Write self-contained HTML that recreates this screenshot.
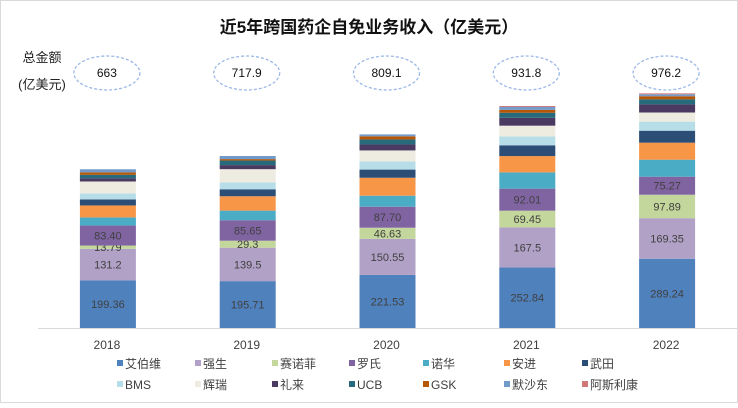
<!DOCTYPE html>
<html><head><meta charset="utf-8"><style>
body{margin:0;background:#fff;}
svg text{font-family:"Liberation Sans","Noto Sans CJK SC",sans-serif;}
</style></head><body>
<svg id="chart" width="738" height="403" viewBox="0 0 738 403" xmlns="http://www.w3.org/2000/svg">
<rect x="0.5" y="0.5" width="737" height="402" fill="#fff" stroke="#d9d9d9"/>
<text x="369" y="33" text-anchor="middle" font-size="17" font-weight="bold" fill="#111">近5年跨国药企自免业务收入（亿美元）</text>
<text x="42" y="62" text-anchor="middle" font-size="13" fill="#222">总金额</text>
<text x="42" y="89" text-anchor="middle" font-size="13" fill="#222">(亿美元)</text>
<g id="totals"></g>
<line x1="38" y1="328.5" x2="737" y2="328.5" stroke="#d9d9d9"/>
<g id="bars"></g>
<g id="xlabels"></g>
<g id="legend"></g>
</svg>
<script>
const categories=["2018","2019","2020","2021","2022"];
const totals=["663","717.9","809.1","931.8","976.2"];
const seriesNames=["艾伯维","强生","赛诺菲","罗氏","诺华","安进","武田","BMS","辉瑞","礼来","UCB","GSK","默沙东","阿斯利康"];
const colors=["#4F81BD","#B2A1C7","#C3D69B","#8064A2","#4BACC6","#F79646","#2C4D75","#B7DEE8","#EEECE1","#4A3A62","#276A7C","#B65708","#729ACA","#D07878"];
const s0=[199.36,195.71,221.53,252.84,289.24];
const s1=[131.2,139.5,150.55,167.5,169.35];
const s2=[13.79,29.3,46.63,69.45,97.89];
const s3=[83.40,85.65,87.70,92.01,75.27];
const s4=[34,40,46,68,71];
const s5=[50,60,75,68,71];
const s6=[25,29,34,45,50];
const s7=[25,29,34,37,38];
const s8=[50,55,46,45,38];
const s9=[13,17,25,33,34];
const s10=[15,19,21,21,21];
const s11=[10,6,13,12,13];
const s12=[13,13,8,12,8];
const s13=[0,0,0,4,4];
const labels0=["199.36","195.71","221.53","252.84","289.24"];
const labels1=["131.2","139.5","150.55","167.5","169.35"];
const labels2=["13.79","29.3","46.63","69.45","97.89"];
const labels3=["83.40","85.65","87.70","92.01","75.27"];
const series=[s0,s1,s2,s3,s4,s5,s6,s7,s8,s9,s10,s11,s12,s13];
const segLabels=[labels0,labels1,labels2,labels3];
const NS="http://www.w3.org/2000/svg";
const baseY=328, pxPerUnit=0.2395, plotLeft=38, bandW=139.8, barW=56;
function xCenter(i){return plotLeft+bandW*(i+0.5);}
function yScale(v){return baseY-v*pxPerUnit;}
function mk(tag,attrs,parent){const e=document.createElementNS(NS,tag);for(const k in attrs)e.setAttribute(k,attrs[k]);parent.appendChild(e);return e;}
const bars=document.getElementById('bars');
categories.forEach((c,i)=>{
  let cum=0;
  series.forEach((s,j)=>{
    const v=s[i];
    const y1=yScale(cum+v), y0=yScale(cum);
    const r=mk('rect',{x:xCenter(i)-barW/2,y:y1,width:barW,height:Math.max(0,y0-y1),fill:colors[j]},bars);
    
    
    if(j<4){
      const t=mk('text',{x:xCenter(i),y:(y0+y1)/2+4,'text-anchor':'middle','font-size':'11',fill:'#404040'},bars);
      t.textContent=segLabels[j][i];
      
      
    }
    cum+=v;
  });
});
const xl=document.getElementById('xlabels');
categories.forEach((c,i)=>{
  const t=mk('text',{x:xCenter(i)-1,y:349,'text-anchor':'middle','font-size':'12',fill:'#404040'},xl);
  t.textContent=c;
  
  
});
const tg=document.getElementById('totals');
totals.forEach((v,i)=>{
  const cx=xCenter(i)-1;
  const e=mk('ellipse',{cx:cx,cy:73,rx:33,ry:17,fill:'none',stroke:'#9DB9E6','stroke-width':'1.3','stroke-dasharray':'3,2'},tg);
  
  
  const t=mk('text',{x:cx,y:77,'text-anchor':'middle','font-size':'12',fill:'#111'},tg);
  t.textContent=v;
  
  
});
const lg=document.getElementById('legend');
const lx=[117,195,272,349,423,504,582];
seriesNames.forEach((n,j)=>{
  const col=j%7,row=Math.floor(j/7);
  const y=row?385:364;
  const g=mk('g',{},lg);
  
  
  mk('rect',{x:lx[col],y:y-4,width:6,height:6,fill:colors[j]},g);
  const t=mk('text',{x:lx[col]+8,y:y+4,'font-size':'12',fill:'#404040'},g);
  t.textContent=n;
});
</script>
</body></html>
